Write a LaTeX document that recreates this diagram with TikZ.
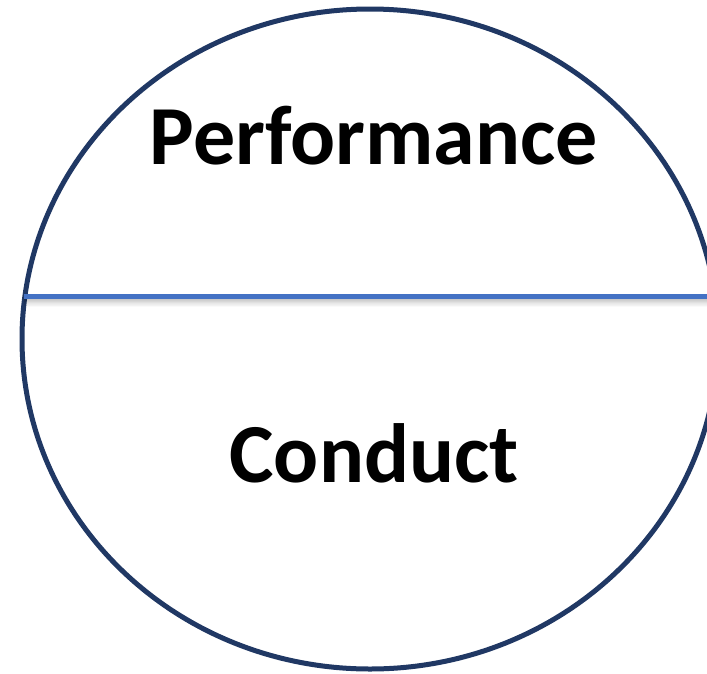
\documentclass[tikz,border=0pt]{standalone}
\usepackage{fontspec}
\setmainfont{Carlito}
\begin{document}
\begin{tikzpicture}[x=1pt,y=-1pt,
  outline/.style={draw=ringblue,line width=5pt},
  divider/.style={draw=lineblue,line width=5pt},
  label/.style={font=\bfseries\fontsize{84}{100}\selectfont,text=black,anchor=base,inner sep=0pt}]
\definecolor{ringblue}{HTML}{203864}
\definecolor{lineblue}{HTML}{4472C4}
\useasboundingbox (0,0) rectangle (707,673);
\clip (0,0) rectangle (707,673);
\fill[white] (0,0) rectangle (707,673);
% outer ellipse
\draw[outline] (370,339) ellipse [x radius=348pt, y radius=330pt];
% end points of the dividing line
\coordinate (divL) at (24,296);
\coordinate (divR) at (715,296);
% soft shadow under the divider
\foreach \d/\o in {2/0.14,3/0.12,4/0.10,5/0.09,6/0.07,7/0.05,8/0.04,9/0.03,10/0.02}
  \draw[black,opacity=\o,line width=1.2pt] ([yshift=-\d pt]divL) -- ([yshift=-\d pt]divR);
\draw[divider] (divL) -- (divR);
% labels
\node[label] (perf) at (374,164) {Performance};
\node[label] (cond) at (374,482) {Conduct};
\end{tikzpicture}
\end{document}
